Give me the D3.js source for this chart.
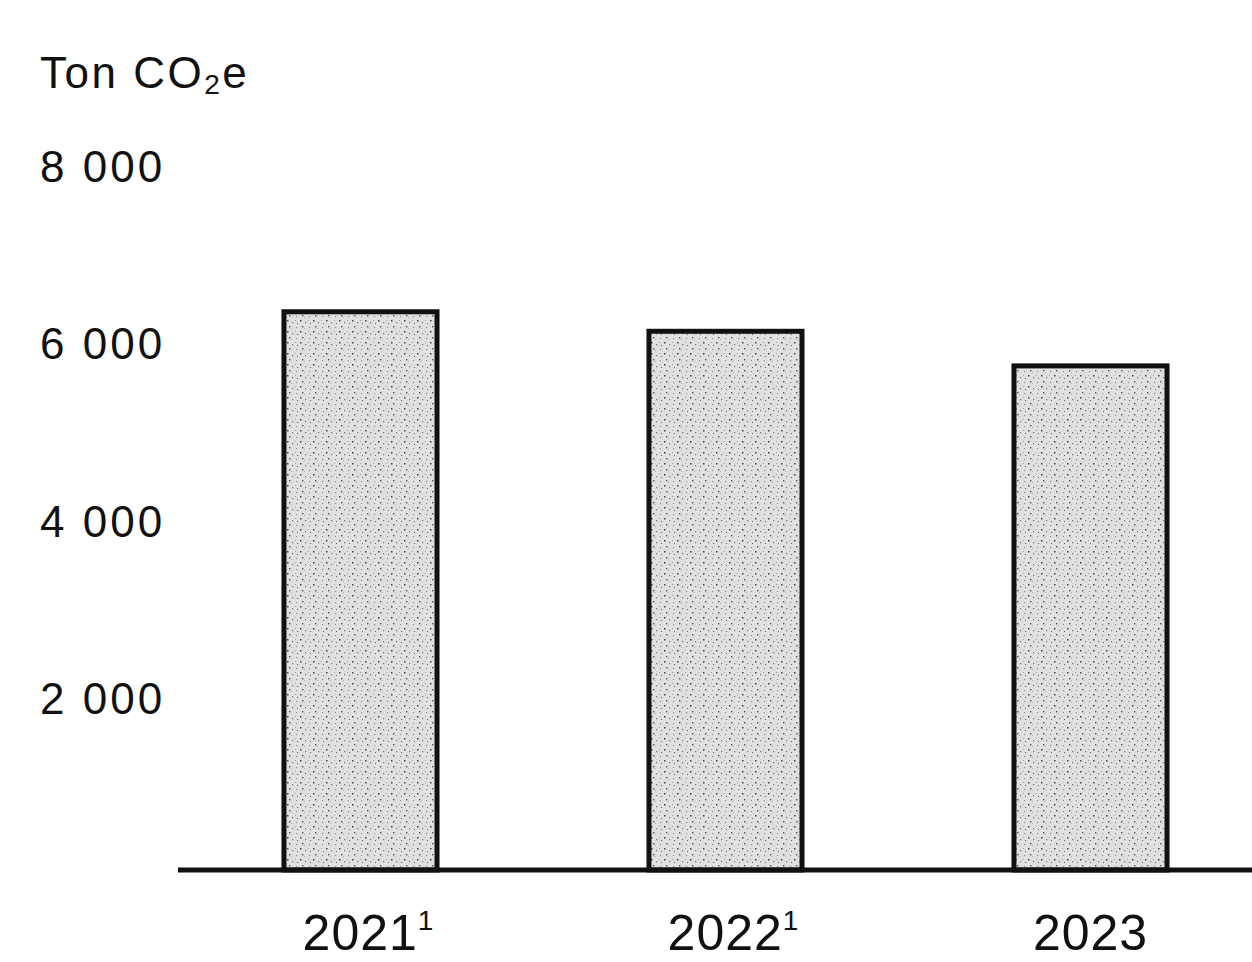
<!DOCTYPE html>
<html><head><meta charset="utf-8">
<script src="https://cdn.jsdelivr.net/npm/d3@7"></script>
<style>
html,body{margin:0;padding:0;background:#fff;}
svg{display:block;}
</style></head>
<body>
<svg id="chart" width="1252" height="962"></svg>
<script>
const categories = ["2021", "2022", "2023"];
const footnotes = ["1", "1", ""];
const values = [6290, 6070, 5680];
const yTicks = [2000, 4000, 6000, 8000];
const unitLabel = "Ton CO";
const unitSub = "2";
const unitTail = "e";

const svg = d3.select("#chart");
const font = "'Liberation Sans', Arial, Helvetica, sans-serif";

// texture pattern for bars
const defs = svg.append("defs");
const pat = defs.append("pattern").attr("id", "stipple").attr("patternUnits", "userSpaceOnUse")
  .attr("width", 13).attr("height", 11);
pat.append("rect").attr("width", 13).attr("height", 11).attr("fill", "#e0e0e0");
[[1,1,1.5,"#444"],[6,3,1.2,"#777"],[3,7,1.4,"#555"],[10,8,1.1,"#888"],[9,1,0.9,"#999"],[11,4,1,"#666"],[5,9,0.9,"#aaa"]].forEach(d=>{
  pat.append("rect").attr("x", d[0]).attr("y", d[1]).attr("width", d[2]).attr("height", d[2]).attr("fill", d[3]);
});

const x = d3.scaleBand().domain(categories).range([178, 1273]).paddingInner(0.567).paddingOuter(0.2835);
const y = d3.scaleLinear().domain([0, 8000]).range([870, 160]);

const loc = d3.formatLocale({decimal: ",", thousands: " ", grouping: [3], currency: ["", ""]});
const fmt = loc.format(",d");

// y axis
const yAxis = svg.append("g").attr("transform", "translate(40,0)")
  .call(d3.axisLeft(y).tickValues(yTicks).tickSize(0).tickPadding(0).tickFormat(fmt));
yAxis.select(".domain").remove();
yAxis.selectAll("text").attr("font-family", font).attr("font-size", 44).attr("fill", "#111")
  .attr("text-anchor", "start").attr("x", 0).attr("letter-spacing", 3)
  .attr("dy", "0.32em").attr("transform", "translate(0,7)");

// unit title
const title = svg.append("text").attr("x", 40).attr("y", 88)
  .attr("font-family", font).attr("font-size", 44).attr("fill", "#111").attr("letter-spacing", 2.5);
title.append("tspan").text(unitLabel);
title.append("tspan").attr("font-size", 28).attr("dy", 6).text(unitSub);
title.append("tspan").attr("dy", -6).text(unitTail);

// bars
const sw = 5;
svg.append("g").selectAll("rect").data(values).join("rect")
  .attr("x", (d, i) => x(categories[i]) + sw / 2)
  .attr("y", d => y(d))
  .attr("width", x.bandwidth() - sw)
  .attr("height", d => y(0) - y(d))
  .attr("fill", "url(#stipple)")
  .attr("stroke", "#111").attr("stroke-width", sw);

// baseline
svg.append("line").attr("x1", 178).attr("x2", 1252).attr("y1", y(0)).attr("y2", y(0))
  .attr("stroke", "#111").attr("stroke-width", 5);

// x axis labels
const xAxis = svg.append("g").attr("transform", `translate(0,${y(0)})`)
  .call(d3.axisBottom(x).tickSize(0).tickPadding(0).tickFormat(() => ""));
xAxis.select(".domain").remove();
xAxis.selectAll(".tick text").each(function(d, i) {
  const t = d3.select(this).attr("font-family", font).attr("font-size", 50).attr("fill", "#111")
    .attr("y", 80).attr("dy", 0).attr("dx", footnotes[i] ? 8 : 0).attr("letter-spacing", 1);
  t.append("tspan").text(d);
  if (footnotes[i]) t.append("tspan").attr("font-size", 28).attr("dy", -20).text(footnotes[i]);
});
</script>
</body></html>
